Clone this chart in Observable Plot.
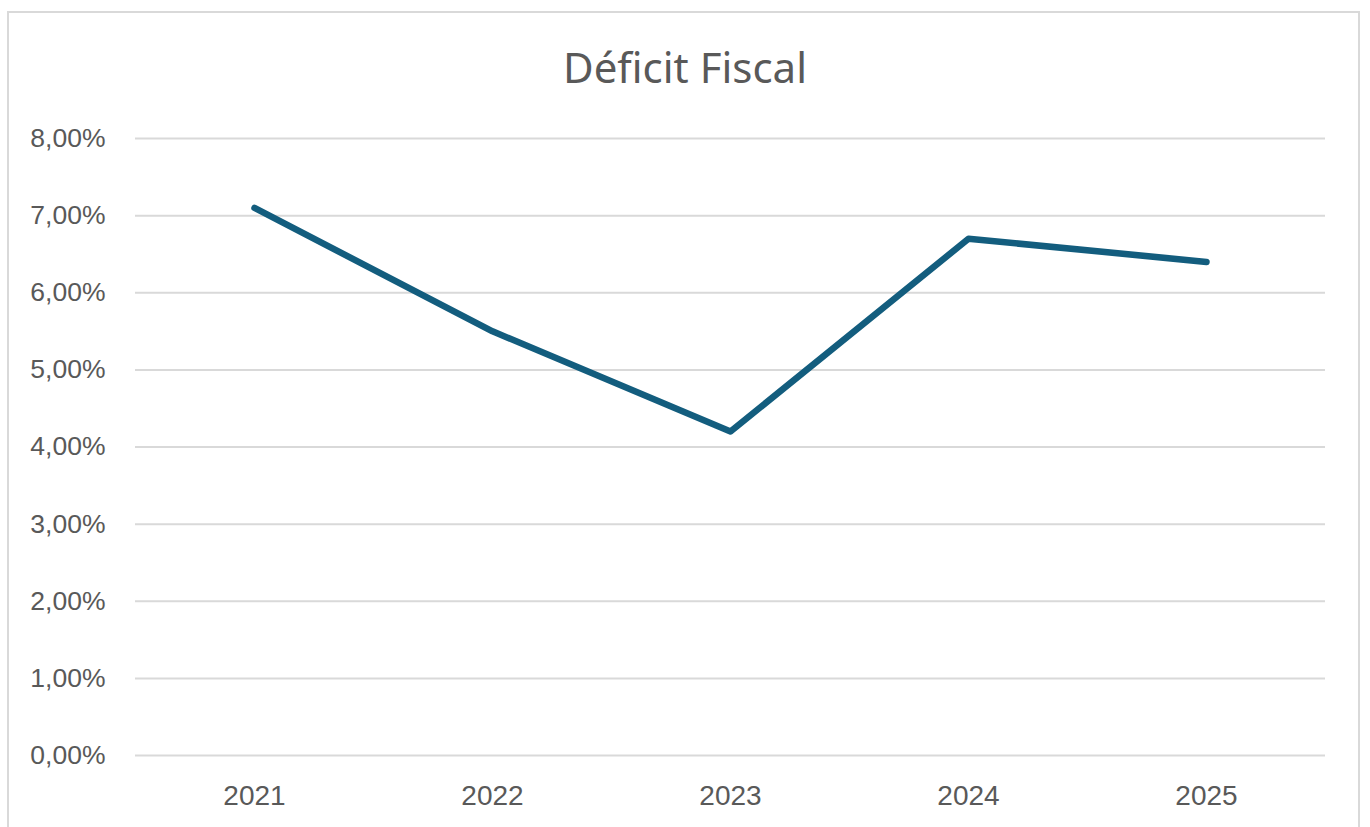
<!DOCTYPE html>
<html>
<head>
<meta charset="utf-8">
<script src="https://cdn.jsdelivr.net/npm/d3@7"></script>
<script src="https://cdn.jsdelivr.net/npm/@observablehq/plot@0.6"></script>
<style>
  html, body { margin: 0; padding: 0; background: #fff; overflow: hidden; }
  #wrap { position: relative; width: 1370px; height: 827px; }
  #frame { position: absolute; left: 7px; top: 11px; width: 1353px; height: 840px; border: 2px solid #d9d9d9; box-sizing: border-box; }
  #title { position: absolute; left: 0; width: 1370px; top: 41px; text-align: center; font-family: "Noto Sans", sans-serif; font-size: 42px; color: #595959; line-height: 52px; }
  #chart { position: absolute; left: 0; top: 0; }
</style>
</head>
<body>
<div id="wrap">
  <div id="frame"></div>
  <div id="chart"></div>
  <div id="title">Déficit Fiscal</div>
</div>
<script>
const years = ["2021", "2022", "2023", "2024", "2025"];
const deficit = [0.071, 0.055, 0.042, 0.067, 0.064];
const yTicks = [0, 0.01, 0.02, 0.03, 0.04, 0.05, 0.06, 0.07, 0.08];

const data = years.map((year, i) => ({year, value: deficit[i]}));
const fmt = d => (d * 100).toFixed(2).replace(".", ",") + "%";

const chart = Plot.plot({
  width: 1370,
  height: 827,
  marginTop: 138,
  marginBottom: 72,
  marginLeft: 135,
  marginRight: 45,
  style: { fontFamily: "'Liberation Sans', Arial, sans-serif", color: "#595959", background: "transparent" },
  x: { type: "point", domain: years, padding: 0.5, label: null },
  y: { domain: [0, 0.08], label: null },
  marks: [
    Plot.ruleY(yTicks, { stroke: "#d9d9d9", strokeWidth: 2, strokeOpacity: 1 }),
    Plot.axisY({ ticks: yTicks, tickFormat: fmt, tickSize: 0, tickPadding: 30, fontSize: 26.5, fill: "#595959", label: null }),
    Plot.axisX({ tickSize: 0, tickPadding: 30, fontSize: 28, fill: "#595959", label: null }),
    Plot.line(data, { x: "year", y: "value", stroke: "#135d7e", strokeWidth: 6.5, strokeLinecap: "round", strokeLinejoin: "round" })
  ]
});
document.getElementById("chart").appendChild(chart);
</script>
</body>
</html>
